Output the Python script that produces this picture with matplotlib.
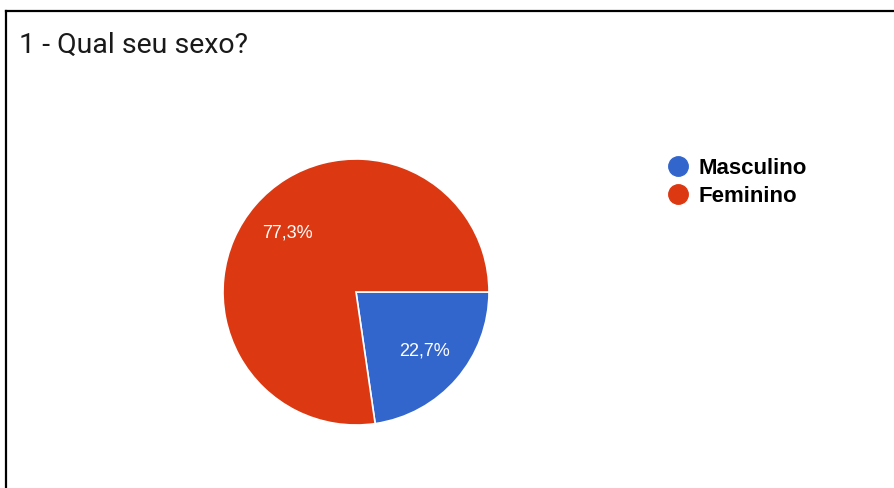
import matplotlib
matplotlib.use('Agg')
import matplotlib.pyplot as plt
from matplotlib.lines import Line2D

# data
labels = ['Masculino', 'Feminino']
values = [22.7, 77.3]
colors = ['#3366CC', '#DC3912']
title = '1 - Qual seu sexo?'

W, H = 894, 488
fig = plt.figure(figsize=(W / 100, H / 100), dpi=100)
fig.patch.set_facecolor('white')

# pie axes placed in pixel coords (centre 356,292 ; radius 133)
cx, cy, r = 356, 292, 133
ax = fig.add_axes([(cx - r) / W, (H - cy - r) / H, 2 * r / W, 2 * r / H])
wedges, texts, autotexts = ax.pie(
    values, colors=colors, startangle=0, counterclock=False,
    autopct=lambda p: ('%.1f%%' % p).replace('.', ','), pctdistance=0.68,
    wedgeprops=dict(edgecolor='white', linewidth=1.2),
    textprops=dict(color='white', fontsize=13, family='Liberation Sans'))
ax.set_aspect('equal')
ax.set_xlim(-1, 1)
ax.set_ylim(-1, 1)

# title
fig.text(19 / W, 1 - 45 / H, title, fontsize=20.5, family='Roboto',
         color='#1a1a1a', va='center', ha='left')

# legend
handles = [Line2D([], [], marker='o', linestyle='none', markersize=14,
                  markerfacecolor=c, markeredgecolor=c) for c in colors]
fig.legend(handles, labels, loc='upper left', bbox_to_anchor=(669 / W, 1 - 158 / H),
           frameon=False, handlelength=0.8, handletextpad=0.55, labelspacing=0.3,
           borderaxespad=0, borderpad=0,
           prop=dict(family='Liberation Sans', weight='bold', size=16))

# frame (top and left edges of the screenshot border)
fig.add_artist(Line2D([5.5 / W, 1], [1 - 10.5 / H, 1 - 10.5 / H], color='black',
                      linewidth=1.6, transform=fig.transFigure))
fig.add_artist(Line2D([5.5 / W, 5.5 / W], [0, 1 - 10.5 / H], color='black',
                      linewidth=1.6, transform=fig.transFigure))

fig.savefig('out.png', dpi=100)
